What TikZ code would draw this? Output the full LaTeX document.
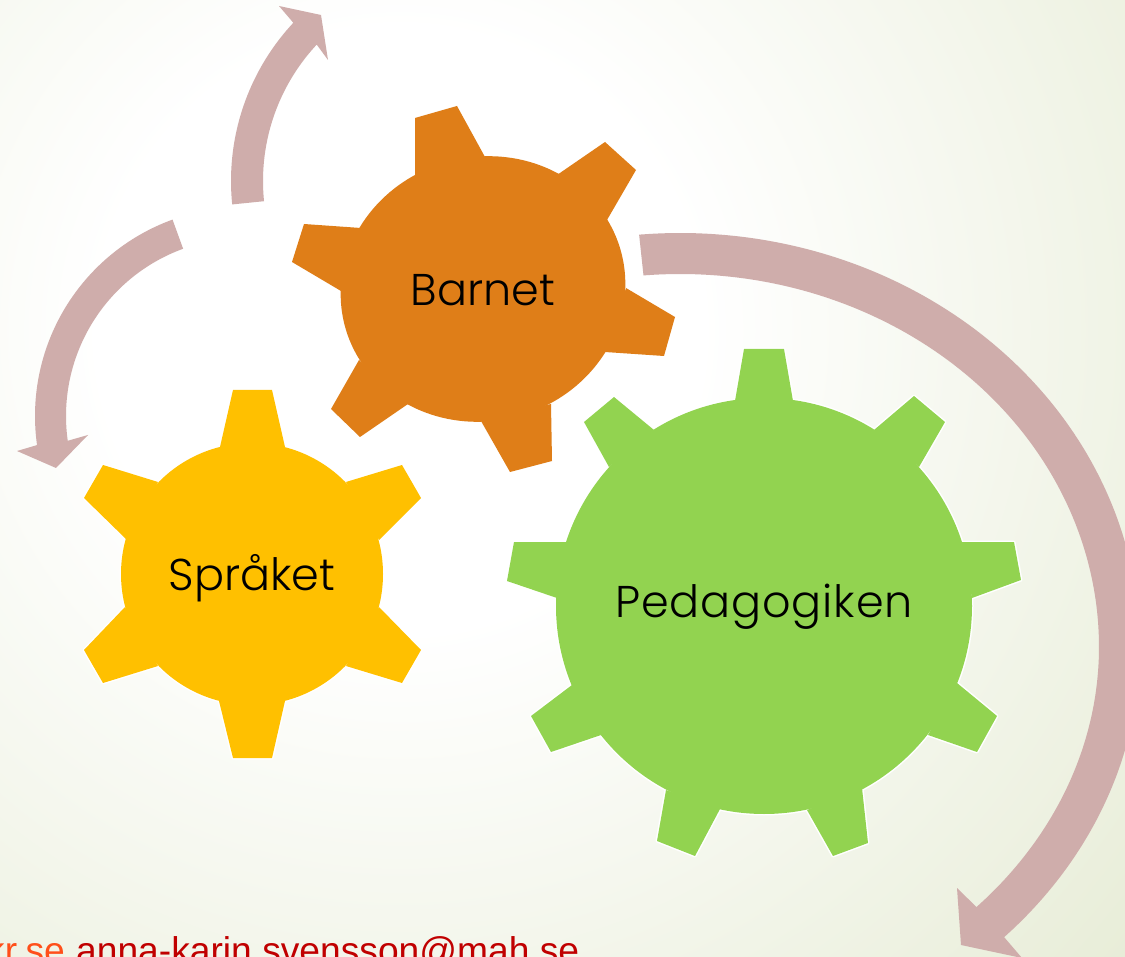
\documentclass[tikz,border=0pt]{standalone}
\usepackage{fontspec}
\setmainfont{Poppins}[UprightFont=* Light]
\newfontfamily\footfont{Liberation Sans}
\definecolor{arrowcol}{HTML}{CFADAB}
\definecolor{barnetcol}{HTML}{DF7E18}
\definecolor{spraketcol}{HTML}{FFC000}
\definecolor{pedcol}{HTML}{92D350}
\definecolor{mailorange}{HTML}{FF4F1A}
\definecolor{maildark}{HTML}{C00000}
\definecolor{bgouter}{HTML}{E8EDD8}
\pgfdeclareradialshading{bgshade}{\pgfpoint{0bp}{0bp}}{color(0bp)=(white); color(7.5bp)=(white); color(24bp)=(bgouter); color(50bp)=(bgouter)}
\tikzset{
  halo/.style={draw=white,line width=3pt,line join=round},
  gearlabel/.style={anchor=base,inner sep=0pt,text=black,font=\fontsize{#1}{#1}\selectfont},
  mail/.style={anchor=base west,inner sep=0pt,font=\footfont\fontsize{37.2}{37.2}\selectfont}
}
\newcommand{\gearfill}[3]{%
  \foreach \q in {#3}{\path[halo] \q;}
  \path[halo] #2;
  \foreach \q in {#3}{\fill[#1] \q;}
  \fill[#1] #2;
}
\newcommand{\arcarrow}[7]{% centre x,y; outer R; inner R; start; end; head polygon
  \fill[arrowcol] plot[smooth,samples=60,domain=#5:#6] ({#1+#3*cos(\x)},{#2+#3*sin(\x)}) -- #7 -- plot[smooth,samples=60,domain=#6:#5] ({#1+#4*cos(\x)},{#2+#4*sin(\x)}) -- cycle;
}
\begin{document}
\begin{tikzpicture}[x=1pt,y=-1pt]
\useasboundingbox (0,0) rectangle (1125,957);
\clip (0,0) rectangle (1125,957);
\shade[shading=bgshade] (400,330) circle[radius=1000pt];

% arrows
\fill[arrowcol] plot[smooth,samples=80,domain=-95.1:44.5] ({680+460*cos(\x)-8*pow(max(0,sin(\x)),2)},{647+414*sin(\x)})
  -- (1022,958) -- (961,945) -- (957,888)
  -- plot[smooth,samples=80,domain=44.2:-95] ({680+419*cos(\x)-8*pow(max(0,sin(\x)),2)},{647+373*sin(\x)}) -- cycle;
\arcarrow{463}{181}{232}{200}{174.2}{223}{(279,6) -- (321,15) -- (328,60)}
\arcarrow{244}{416}{209}{178}{250}{172}{(17,451) -- (56,468) -- (88,435)}

% gears
\gearfill{spraketcol}{(252,574) circle[radius=131pt]}{
 {(233,390)--(272,390)--(285,447)--(220,447)--cycle},
 {(402,465)--(421,498)--(379,540)--(346,482)--cycle},
 {(421,650)--(402,683)--(346,666)--(379,607)--cycle},
 {(233,758)--(272,758)--(285,701)--(219,701)--cycle},
 {(84,650)--(103,683)--(158,666)--(125,607)--cycle},
 {(103,465)--(84,498)--(127,540)--(158,482)--cycle}}
\gearfill{pedcol}{(764,606) circle[radius=208pt]}{
 {(744,349)--(784,349)--(793,401)--(735,401)--cycle},
 {(914,396)--(945,422)--(919,467)--(874,430)--cycle},
 {(1014,542)--(1021,580)--(972,598)--(961,542)--cycle},
 {(997,716)--(977,752)--(928,735)--(957,683)--cycle},
 {(868,843)--(833,856)--(807,810)--(862,788)--cycle},
 {(657,841)--(695,856)--(720,809)--(666,790)--cycle},
 {(531,716)--(551,752)--(601,735)--(572,685)--cycle},
 {(514,542)--(507,581)--(557,598)--(567,542)--cycle},
 {(584,422)--(614,397)--(654,430)--(609,467)--cycle}}
\gearfill{barnetcol}{[rotate around={15:(483,289)}] (483,289) ellipse[x radius=143pt,y radius=132pt]}{
 {(415,176)--(415,118)--(457,106)--(485,157)--cycle},
 {(557,175)--(605,142)--(636,170)--(607,220)--cycle},
 {(626,288)--(675,317)--(664,356)--(605,352)--cycle},
 {(551,404)--(552,461)--(510,472)--(481,421)--cycle},
 {(408,404)--(360,437)--(331,409)--(359,360)--cycle},
 {(341,291)--(292,262)--(304,224)--(361,228)--cycle}}

% labels
\node[gearlabel=44.5] (barnet) at (483,306) {Barnet};
\node[gearlabel=44.5] (spraket) at (252,590) {Språket};
\node[gearlabel=44.5] (pedagogiken) at (764,617) {\addfontfeature{LetterSpace=2}Pedagogiken};
\node[mail,anchor=base east,text=mailorange] (mailone) at (65,963) {kr.se};
\node[mail,text=maildark] (mailtwo) at (76,963) {anna-karin.svensson@mah.se};
\end{tikzpicture}
\end{document}
